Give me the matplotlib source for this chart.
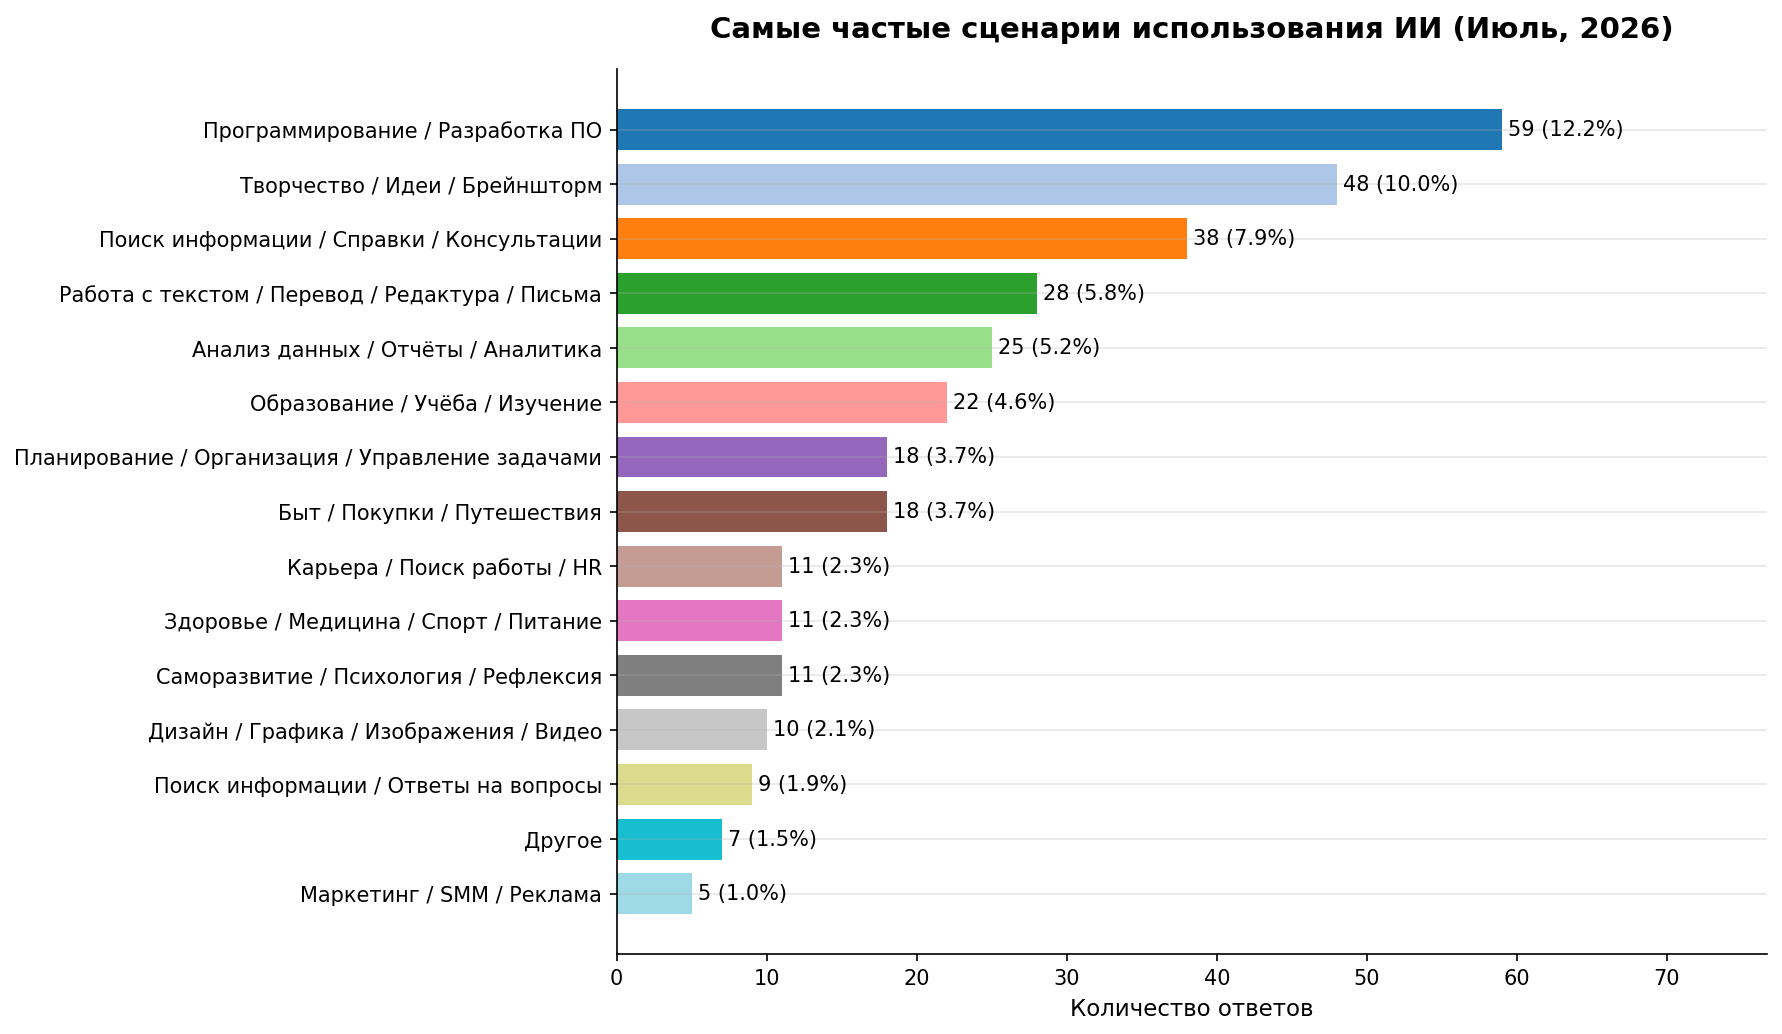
"""Horizontal bar chart: most frequent AI usage scenarios (July 2026)."""

import matplotlib

matplotlib.use("Agg")
import matplotlib.pyplot as plt
import numpy as np

categories = [
    "Программирование / Разработка ПО",
    "Творчество / Идеи / Брейншторм",
    "Поиск информации / Справки / Консультации",
    "Работа с текстом / Перевод / Редактура / Письма",
    "Анализ данных / Отчёты / Аналитика",
    "Образование / Учёба / Изучение",
    "Планирование / Организация / Управление задачами",
    "Быт / Покупки / Путешествия",
    "Карьера / Поиск работы / HR",
    "Здоровье / Медицина / Спорт / Питание",
    "Саморазвитие / Психология / Рефлексия",
    "Дизайн / Графика / Изображения / Видео",
    "Поиск информации / Ответы на вопросы",
    "Другое",
    "Маркетинг / SMM / Реклама",
]
counts = [59, 48, 38, 28, 25, 22, 18, 18, 11, 11, 11, 10, 9, 7, 5]
percents = [12.2, 10.0, 7.9, 5.8, 5.2, 4.6, 3.7, 3.7, 2.3, 2.3, 2.3, 2.1, 1.9, 1.5, 1.0]

fig, ax = plt.subplots(figsize=(11.883, 6.8963), dpi=150)
fig.subplots_adjust(left=0.346, right=0.9916, top=0.933, bottom=0.077)

y = np.arange(len(categories))
colors = plt.cm.tab20(np.linspace(0, 1, len(categories)))
ax.barh(y, counts, height=0.75, color=colors)

for yi, c, p in zip(y, counts, percents):
    ax.text(c + 0.4, yi, f"{c} ({p:.1f}%)", va="center", ha="left", fontsize=10)

ax.set_yticks(y)
ax.set_yticklabels(categories, fontsize=10)
ax.invert_yaxis()
ax.set_xlim(0, max(counts) * 1.3)
ax.set_xlabel("Количество ответов", fontsize=11)
ax.set_title("Самые частые сценарии использования ИИ (Июль, 2026)",
             fontsize=14, fontweight="bold", pad=15)
ax.grid(axis="y", alpha=0.3)
ax.spines["top"].set_visible(False)
ax.spines["right"].set_visible(False)

fig.savefig("out.png", dpi=150)
